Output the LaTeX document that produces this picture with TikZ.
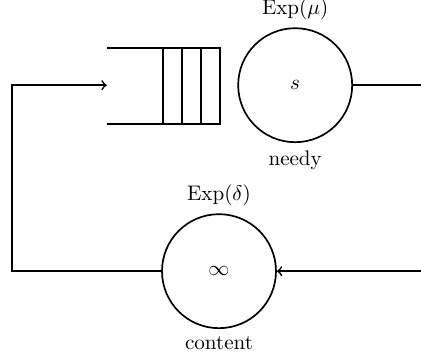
\documentclass[tikz,border=0pt]{standalone}
\usetikzlibrary{positioning}
\begin{document}
\begin{tikzpicture}[thick]
    \useasboundingbox (0,0) rectangle (7.017,6);

    % needy server
    \node[draw, circle, minimum size=1.9cm, label={above:$\mathrm{Exp}(\mu)$}, label={below:needy}] (needy) at (4.92,4.58) {$s$};

    % content server
    \node[draw, circle, minimum size=1.9cm, label={above:$\mathrm{Exp}(\delta)$}, label={below:content}] (content) at (3.65,1.48) {$\infty$};

    % Queue
    \draw (1.78,5.2) -- (3.67,5.2) -- (3.67,3.93) -- (1.78,3.93);
    \foreach \x in {2.72,3.03,3.35}
        \draw (\x,5.2) -- (\x,3.93);
    \coordinate (qin) at (1.78,4.58);

    % Loop points
    \coordinate (corner) at (0.2,4.58);
    \coordinate (corner2) at (0.2,1.48);
    \coordinate (outtop) at (7.017,4.58);
    \coordinate (inbot) at (7.017,1.48);

    % Connections
    \draw (needy) -- (outtop);
    \draw[->] (inbot) -- (content);
    \draw[->] (content) -- (corner2) -- (corner) -- (qin);
\end{tikzpicture}
\end{document}
